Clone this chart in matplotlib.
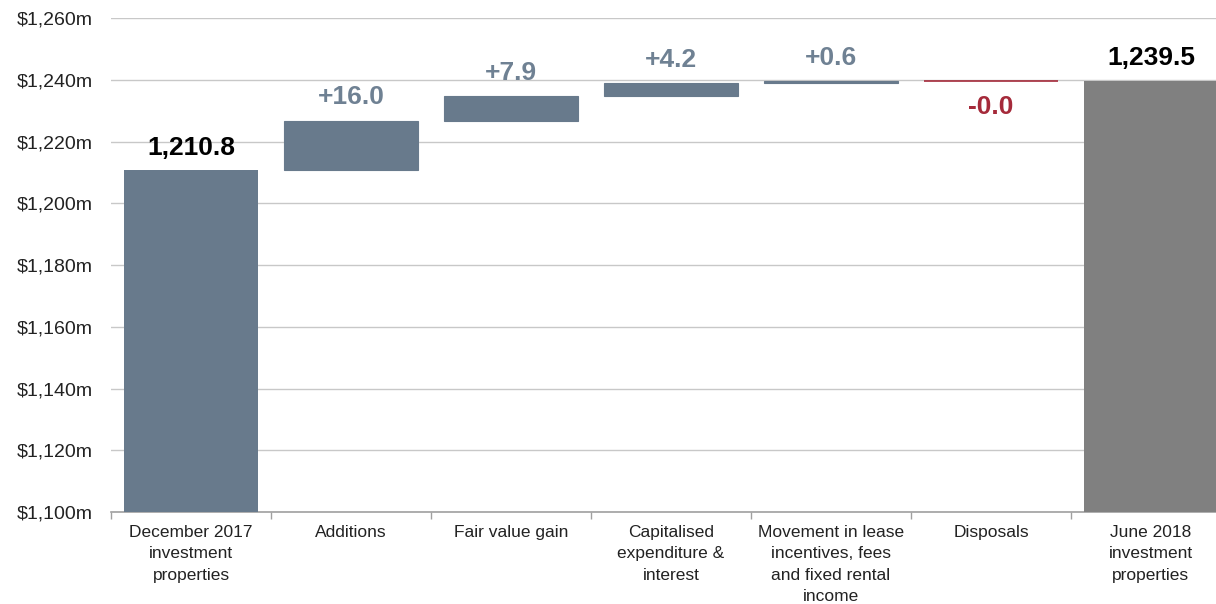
import matplotlib
matplotlib.use("Agg")
import matplotlib.pyplot as plt
from matplotlib.ticker import FixedLocator, FuncFormatter

plt.rcParams['font.family'] = ['Liberation Sans', 'DejaVu Sans']

# Investment property bridge, $m
categories = [
    "December 2017\ninvestment\nproperties",
    "Additions",
    "Fair value gain",
    "Capitalised\nexpenditure &\ninterest",
    "Movement in lease\nincentives, fees\nand fixed rental\nincome",
    "Disposals",
    "June 2018\ninvestment\nproperties",
]
opening_value = 1210.8
movements = [16.0, 7.9, 4.2, 0.6, -0.0]
movement_labels = ["+16.0", "+7.9", "+4.2", "+0.6", "-0.0"]
closing_value = 1239.5
y_ticks = [1100, 1120, 1140, 1160, 1180, 1200, 1220, 1240, 1260]

slate = "#687a8c"
slate_text = "#6f8193"
total_gray = "#808080"
red = "#a52a3a"

fig = plt.figure(figsize=(12.16, 6.04), dpi=100)
ax = fig.add_axes([0.0913, 0.1523, 1.0123 - 0.0913, 0.970 - 0.1523])

ymin, ymax = y_ticks[0], y_ticks[-1]
width = 0.84
n = len(categories)
xs = list(range(n))
label_size = 19

# Opening total
ax.bar(xs[0], opening_value - ymin, bottom=ymin, width=width, color=slate, zorder=3)
ax.annotate(f"{opening_value:,.1f}", (xs[0], opening_value), xytext=(0, 7),
            textcoords="offset points", ha="center", va="bottom",
            fontsize=label_size, fontweight="bold", color="black", zorder=5)

# Movements
running = opening_value
for i, (mv, lab) in enumerate(zip(movements, movement_labels), start=1):
    start = running
    end = running + mv
    if mv > 0 or lab.startswith("+"):
        ax.bar(xs[i], end - start, bottom=start, width=width, color=slate,
               edgecolor=slate, linewidth=0.8, zorder=3)
        ax.annotate(lab, (xs[i], max(start, end)), xytext=(0, 8),
                    textcoords="offset points", ha="center", va="bottom",
                    fontsize=label_size, fontweight="bold", color=slate_text, zorder=5)
    else:
        ax.bar(xs[i], end - start, bottom=start, width=width, color=red,
               edgecolor=red, linewidth=1.2, zorder=3)
        ax.annotate(lab, (xs[i], min(start, end)), xytext=(0, -10),
                    textcoords="offset points", ha="center", va="top",
                    fontsize=label_size, fontweight="bold", color=red, zorder=5)
    running = end

# Closing total
ax.bar(xs[-1], closing_value - ymin, bottom=ymin, width=width, color=total_gray, zorder=3)
ax.annotate(f"{closing_value:,.1f}", (xs[-1], closing_value), xytext=(0, 8),
            textcoords="offset points", ha="center", va="bottom",
            fontsize=label_size, fontweight="bold", color="black", zorder=5)

ax.set_xlim(-0.5, n - 0.5)
ax.set_ylim(ymin, ymax)
ax.yaxis.set_major_locator(FixedLocator(y_ticks))
ax.yaxis.set_major_formatter(FuncFormatter(lambda v, p: f"${v:,.0f}m"))
ax.grid(axis="y", color="#c8c8c8", linewidth=1.0, zorder=0)
ax.set_axisbelow(True)

ax.set_xticks(xs)
ax.set_xticklabels(categories, fontsize=12.5, color="#222222", linespacing=1.55)
ax.tick_params(axis="x", length=0, pad=9)
ax.tick_params(axis="y", length=0, pad=13, labelsize=14, labelcolor="#222222")

# Boundary tick marks between categories
ax.set_xticks([x + 0.5 for x in xs[:-1]] + [-0.5], minor=True)
ax.tick_params(axis="x", which="minor", length=5, color="#a0a0a0", width=1)

for s in ["top", "right", "left"]:
    ax.spines[s].set_visible(False)
ax.spines["bottom"].set_color("#a0a0a0")
ax.spines["bottom"].set_linewidth(1.2)

fig.savefig("out.png", dpi=100, facecolor="white")
